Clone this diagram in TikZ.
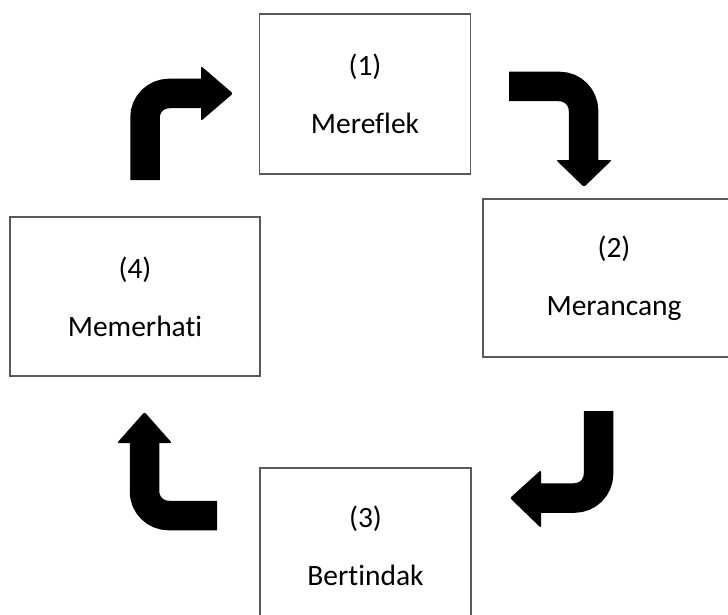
\documentclass[tikz,border=0pt]{standalone}
\usepackage{fontspec}
\setmainfont{Carlito}[Ligatures={NoCommon}]
\tikzset{
	stage/.style={draw=black!65, line width=1.2pt, inner sep=0pt, align=center,
		font=\fontsize{29.5}{58}\selectfont},
	bentshaft/.style={line width=29.5pt, rounded corners=24pt},
}
\begin{document}
\begin{tikzpicture}[x=1pt,y=-1pt]
	\useasboundingbox (0,0) rectangle (728,615);
	\clip (0,0) rectangle (728,615);
	\node[stage, minimum width=211pt, minimum height=160pt] at (365,94) (refl) {(1)\\Mereflek};
	\node[stage, minimum width=262pt, minimum height=158pt] at (614,278) (plan) {(2)\\Merancang};
	\node[stage, minimum width=211pt, minimum height=156pt] at (365.5,546) (act) {(3)\\Bertindak};
	\node[stage, minimum width=250pt, minimum height=159pt] at (135,296.5) (obs) {(4)\\Memerhati};
	% arrow 4 -> 1
	\draw[bentshaft] (145,180) -- (145,93.5) -- (202,93.5);
	\fill[rounded corners=2pt] (201,66) -- (233,93.5) -- (201,121) -- cycle;
	% arrow 1 -> 2
	\draw[bentshaft] (509,86.5) -- (583.5,86.5) -- (583.5,161);
	\fill[rounded corners=2pt] (556,160) -- (612,160) -- (584,187) -- cycle;
	% arrow 2 -> 3
	\draw[bentshaft] (598.5,411) -- (598.5,498) -- (540,498);
	\fill[rounded corners=2pt] (541,470) -- (510,498) -- (541,528) -- cycle;
	% arrow 3 -> 4
	\draw[bentshaft] (217,515.5) -- (144.5,515.5) -- (144.5,442);
	\fill[rounded corners=2pt] (117,443) -- (144.5,412) -- (172,443) -- cycle;
\end{tikzpicture}
\end{document}
